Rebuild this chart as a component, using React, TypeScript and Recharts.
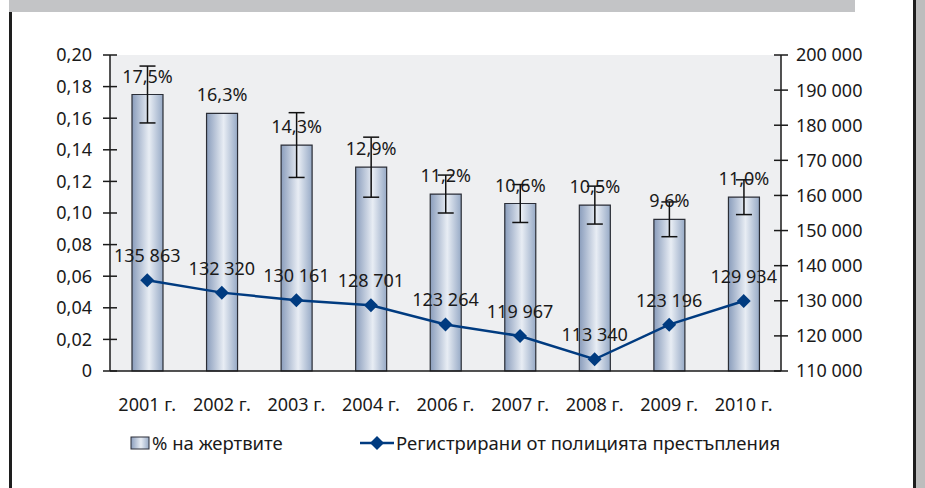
import React from "react";
import {
  Bar,
  CartesianGrid,
  ComposedChart,
  ErrorBar,
  LabelList,
  Legend,
  Line,
  XAxis,
  YAxis,
} from "recharts";

const years = [
  "2001 г.",
  "2002 г.",
  "2003 г.",
  "2004 г.",
  "2006 г.",
  "2007 г.",
  "2008 г.",
  "2009 г.",
  "2010 г.",
];
const victimShare = [0.175, 0.163, 0.143, 0.129, 0.112, 0.106, 0.105, 0.096, 0.11];
const victimError = [0.018, null, 0.0205, 0.019, 0.012, 0.012, 0.012, 0.011, 0.011];
const crimes = [135863, 132320, 130161, 128701, 123264, 119967, 113340, 123196, 129934];
const leftTicks = [0, 0.02, 0.04, 0.06, 0.08, 0.1, 0.12, 0.14, 0.16, 0.18, 0.2];
const rightTicks = [
  110000, 120000, 130000, 140000, 150000, 160000, 170000, 180000, 190000, 200000,
];
const seriesNames = ["% на жертвите", "Регистрирани от полицията престъпления"];

const data = years.map((year, i) => ({
  year,
  share: victimShare[i],
  err: victimError[i],
  crimes: crimes[i],
}));

const FONT = "'Noto Sans', sans-serif";
const FS = 18;
const TEXT = "#1a1a1a";
const LINE_COLOR = "#003B80";

const fmtShare = (v: number) => v.toFixed(2).replace(".", ",");
const fmtPct = (v: number) => (v * 100).toFixed(1).replace(".", ",") + "%";
const fmtThousands = (v: number) =>
  String(v).replace(/\B(?=(\d{3})+(?!\d))/g, " ");

const LeftTick = (props: any) => {
  const { x, y, payload } = props;
  const ax = x + 18;
  return (
    <g>
      <line x1={ax - 7} x2={ax + 7} y1={y} y2={y} stroke={TEXT} strokeWidth={1.5} />
      <text x={x} y={y} dy="0.36em" textAnchor="end" fontSize={FS} fill={TEXT} fontFamily={FONT}>
        {payload.value === 0 ? "0" : fmtShare(payload.value)}
      </text>
    </g>
  );
};

const RightTick = (props: any) => {
  const { x, y, payload } = props;
  const ax = x - 15;
  return (
    <g>
      <line x1={ax - 7} x2={ax + 7} y1={y} y2={y} stroke={TEXT} strokeWidth={1.5} />
      <text x={x} y={y} dy="0.36em" textAnchor="start" fontSize={FS} fill={TEXT} fontFamily={FONT}>
        {fmtThousands(payload.value)}
      </text>
    </g>
  );
};

const Diamond = (props: any) => {
  const { cx, cy } = props;
  if (cx == null || cy == null) return null;
  const s = 7;
  return (
    <polygon
      points={`${cx},${cy - s} ${cx + s},${cy} ${cx},${cy + s} ${cx - s},${cy}`}
      fill={LINE_COLOR}
    />
  );
};

const LegendContent = () => (
  <div style={{ position: "relative", height: 26, fontFamily: FONT, fontSize: 18.5, color: TEXT }}>
    <div style={{ position: "absolute", left: 130, top: 0, display: "flex", alignItems: "center" }}>
      <svg width={20} height={14}>
        <defs>
          <linearGradient id="legGrad" x1="0" x2="1" y1="0" y2="0">
            <stop offset="0%" stopColor="#8A9DBC" />
            <stop offset="55%" stopColor="#E8EDF4" />
            <stop offset="100%" stopColor="#97AAC6" />
          </linearGradient>
        </defs>
        <rect x={1} y={1} width={18} height={12} fill="url(#legGrad)" stroke="#2a2d36" strokeWidth={1} />
      </svg>
      <span style={{ marginLeft: 2 }}>{seriesNames[0]}</span>
    </div>
    <div style={{ position: "absolute", left: 360, top: 0, display: "flex", alignItems: "center" }}>
      <svg width={34} height={16}>
        <line x1={0} x2={34} y1={8} y2={8} stroke={LINE_COLOR} strokeWidth={2.5} />
        <polygon points="17,1 24,8 17,15 10,8" fill={LINE_COLOR} />
      </svg>
      <span style={{ marginLeft: 2 }}>{seriesNames[1]}</span>
    </div>
  </div>
);

export default function App() {
  return (
    <div style={{ position: "absolute", left: 0, top: 0, width: 925, height: 488, background: "#fff" }}>
      <div style={{ position: "absolute", left: 9, top: 0, width: 846, height: 12, background: "#C3C4C6" }} />
      <div style={{ position: "absolute", left: 9, top: 12, width: 3, height: 476, background: "#1e1e1e" }} />
      <div style={{ position: "absolute", left: 913, top: 0, width: 3, height: 488, background: "#1e1e1e" }} />
      <div style={{ position: "absolute", left: 916, top: 0, width: 9, height: 488, background: "#BDBDBD" }} />
      <ComposedChart
        width={925}
        height={488}
        data={data}
        margin={{ top: 55, right: 0, bottom: 77, left: 0 }}
        barCategoryGap={0}
        style={{ fontFamily: FONT }}
      >
        <defs>
          <linearGradient id="barGrad" x1="0" x2="1" y1="0" y2="0">
            <stop offset="0%" stopColor="#8A9DBC" />
            <stop offset="55%" stopColor="#E8EDF4" />
            <stop offset="100%" stopColor="#97AAC6" />
          </linearGradient>
        </defs>
        <CartesianGrid horizontal={false} vertical={false} fill="#EEEFF1" />
        <XAxis
          dataKey="year"
          height={40}
          tickLine={false}
          tickMargin={21}
          axisLine={{ stroke: TEXT, strokeWidth: 1.5 }}
          tick={{ fontSize: FS, fill: TEXT, fontFamily: FONT }}
        />
        <YAxis
          yAxisId="left"
          width={110}
          domain={[0, 0.2]}
          ticks={leftTicks}
          interval={0}
          tickSize={0}
          tickMargin={18}
          axisLine={{ stroke: TEXT, strokeWidth: 1.5 }}
          tick={<LeftTick />}
        />
        <YAxis
          yAxisId="right"
          orientation="right"
          width={144}
          domain={[110000, 200000]}
          ticks={rightTicks}
          interval={0}
          tickSize={0}
          tickMargin={15}
          axisLine={{ stroke: TEXT, strokeWidth: 1.5 }}
          tick={<RightTick />}
        />
        <Legend
          verticalAlign="middle"
          align="center"
          layout="horizontal"
          wrapperStyle={{ top: 430, left: 0, width: 925 }}
          content={<LegendContent />}
        />
        <Bar
          yAxisId="left"
          dataKey="share"
          name={seriesNames[0]}
          barSize={31}
          fill="url(#barGrad)"
          stroke="#2a2d36"
          strokeWidth={1.2}
          isAnimationActive={false}
        >
          <ErrorBar dataKey="err" width={8} stroke="#111" strokeWidth={1.5} direction="y" />
          <LabelList
            dataKey="share"
            position="top"
            offset={12}
            formatter={(v: any) => fmtPct(Number(v))}
            style={{ fontSize: FS, fill: TEXT, fontFamily: FONT }}
          />
        </Bar>
        <Line
          yAxisId="right"
          dataKey="crimes"
          name={seriesNames[1]}
          stroke={LINE_COLOR}
          strokeWidth={2.5}
          dot={<Diamond />}
          activeDot={false}
          isAnimationActive={false}
        >
          <LabelList
            dataKey="crimes"
            position="top"
            offset={18}
            formatter={(v: any) => fmtThousands(Number(v))}
            style={{ fontSize: FS, fill: TEXT, fontFamily: FONT }}
          />
        </Line>
      </ComposedChart>
    </div>
  );
}
